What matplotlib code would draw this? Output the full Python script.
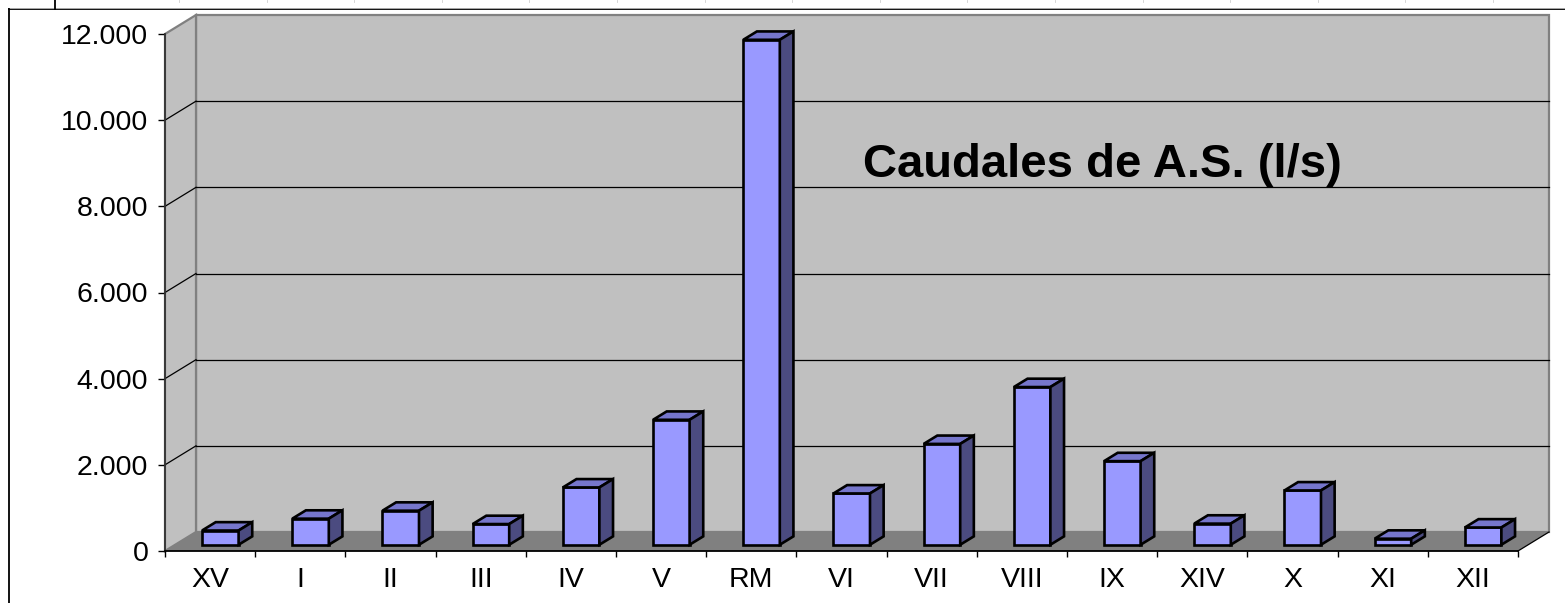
import matplotlib.pyplot as plt
from matplotlib.patches import Polygon
from matplotlib.lines import Line2D
from matplotlib.ticker import FixedLocator, FuncFormatter

# data
regiones = ["XV", "I", "II", "III", "IV", "V", "RM", "VI", "VII", "VIII", "IX", "XIV", "X", "XI", "XII"]
caudales = [330, 605, 790, 480, 1330, 2900, 11720, 1190, 2340, 3660, 1940, 490, 1260, 140, 400]
yticks = [0, 2000, 4000, 6000, 8000, 10000, 12000]
titulo = "Caudales de A.S. (l/s)"

W, H = 1565, 603
plt.rcParams['font.family'] = ['Liberation Sans', 'DejaVu Sans']

fig = plt.figure(figsize=(W / 100, H / 100), dpi=100)
fig.patch.set_facecolor("white")

# front plane of the 3d box, in pixels (from top-left)
fx0, fx1 = 165, 1518
fy0, fy1 = 551, 34
ax = fig.add_axes([fx0 / W, (H - fy0) / H, (fx1 - fx0) / W, (fy0 - fy1) / H])
n = len(regiones)
ymax = yticks[-1]
ax.set_xlim(0, n)
ax.set_ylim(0, ymax)
ax.set_facecolor("none")

# depth offset of the box (31px right, 19px up) in data units
pxcat = (fx1 - fx0) / n
pxval = (fy0 - fy1) / ymax
ddx = 31 / pxcat
ddy = 19 / pxval

wall = "#C0C0C0"
edge = "#808080"
# back wall
ax.add_patch(Polygon([(ddx, ddy), (n + ddx, ddy), (n + ddx, ymax + ddy), (ddx, ymax + ddy)],
                     closed=True, fc=wall, ec=edge, lw=1.6, clip_on=False, zorder=0.5))
# side wall
ax.add_patch(Polygon([(0, 0), (ddx, ddy), (ddx, ymax + ddy), (0, ymax)],
                     closed=True, fc=wall, ec=edge, lw=1.6, clip_on=False, zorder=0.5))
# floor
ax.add_patch(Polygon([(0, 0), (n, 0), (n + ddx, ddy), (ddx, ddy)],
                     closed=True, fc="#808080", ec="none", clip_on=False, zorder=0.6))
ax.plot([n, n + ddx], [0, ddy], color="k", lw=0.9, clip_on=False, zorder=0.7)

# gridlines on back and side walls
for v in yticks[1:-1]:
  ax.plot([ddx, n + ddx], [v + ddy, v + ddy], color="k", lw=0.9, clip_on=False, zorder=0.8)
  ax.plot([0, ddx], [v, v + ddy], color="k", lw=0.9, clip_on=False, zorder=0.8)

# bars
bw = 0.405   # front face width (categories)
f0 = 0.33    # depth position of front face
fb = 0.44    # depth of bar
bdx, bdy = fb * ddx, fb * ddy
for i, v in enumerate(caudales):
  xl = i + (1 - bw) / 2 + f0 * ddx
  yb = f0 * ddy
  yt = yb + v
  front = [(xl, yb), (xl + bw, yb), (xl + bw, yt), (xl, yt)]
  top = [(xl, yt), (xl + bw, yt), (xl + bw + bdx, yt + bdy), (xl + bdx, yt + bdy)]
  side = [(xl + bw, yb), (xl + bw + bdx, yb + bdy), (xl + bw + bdx, yt + bdy), (xl + bw, yt)]
  for pts, col in ((front, "#9999FF"), (top, "#7676CC"), (side, "#4B4B80")):
    ax.add_patch(Polygon(pts, closed=True, fc=col, ec="k", lw=1.9, joinstyle="miter",
                         clip_on=False, zorder=2 + i * 0.01))

# axes
for s in ("top", "right"):
  ax.spines[s].set_visible(False)
ax.spines["left"].set_color("#333333")
ax.spines["left"].set_linewidth(1.3)
ax.spines["bottom"].set_color("k")
ax.spines["bottom"].set_linewidth(1.3)

ax.yaxis.set_major_locator(FixedLocator(yticks))
ax.yaxis.set_major_formatter(FuncFormatter(lambda v, p: f"{int(v):,}".replace(",", ".")))
ax.tick_params(axis="y", which="major", direction="out", length=5, width=1, color="k",
               labelsize=20.5, pad=7)

ax.xaxis.set_major_locator(FixedLocator(range(n + 1)))
ax.xaxis.set_major_formatter(FuncFormatter(lambda v, p: ""))
ax.set_xticks([i + 0.5 for i in range(n)], regiones, minor=True)
ax.tick_params(axis="x", which="major", direction="out", length=4.5, width=1, color="k")
ax.tick_params(axis="x", which="minor", length=0, labelsize=20.5, pad=11.5)

fig.text(863 / W, 1 - 177 / H, titulo, fontsize=34, fontweight="bold", ha="left", va="baseline")

# frame lines of the sheet
fig.add_artist(Line2D([9 / W, 1], [1 - 9 / H, 1 - 9 / H], color="k", lw=1.3))
fig.add_artist(Line2D([9 / W, 1], [1 - 7.5 / H, 1 - 7.5 / H], color="#aaaaaa", lw=0.7))
fig.add_artist(Line2D([9 / W, 9 / W], [0, 1 - 9 / H], color="k", lw=1.3))
fig.add_artist(Line2D([55 / W, 55 / W], [1 - 9 / H, 1], color="k", lw=1.3))
x = 179.0
while x < 1500:
  fig.add_artist(Line2D([x / W, x / W], [1 - 2 / H, 1], color="#cfcfcf", lw=0.6))
  x += 87.6

fig.savefig("out.png", dpi=100)
